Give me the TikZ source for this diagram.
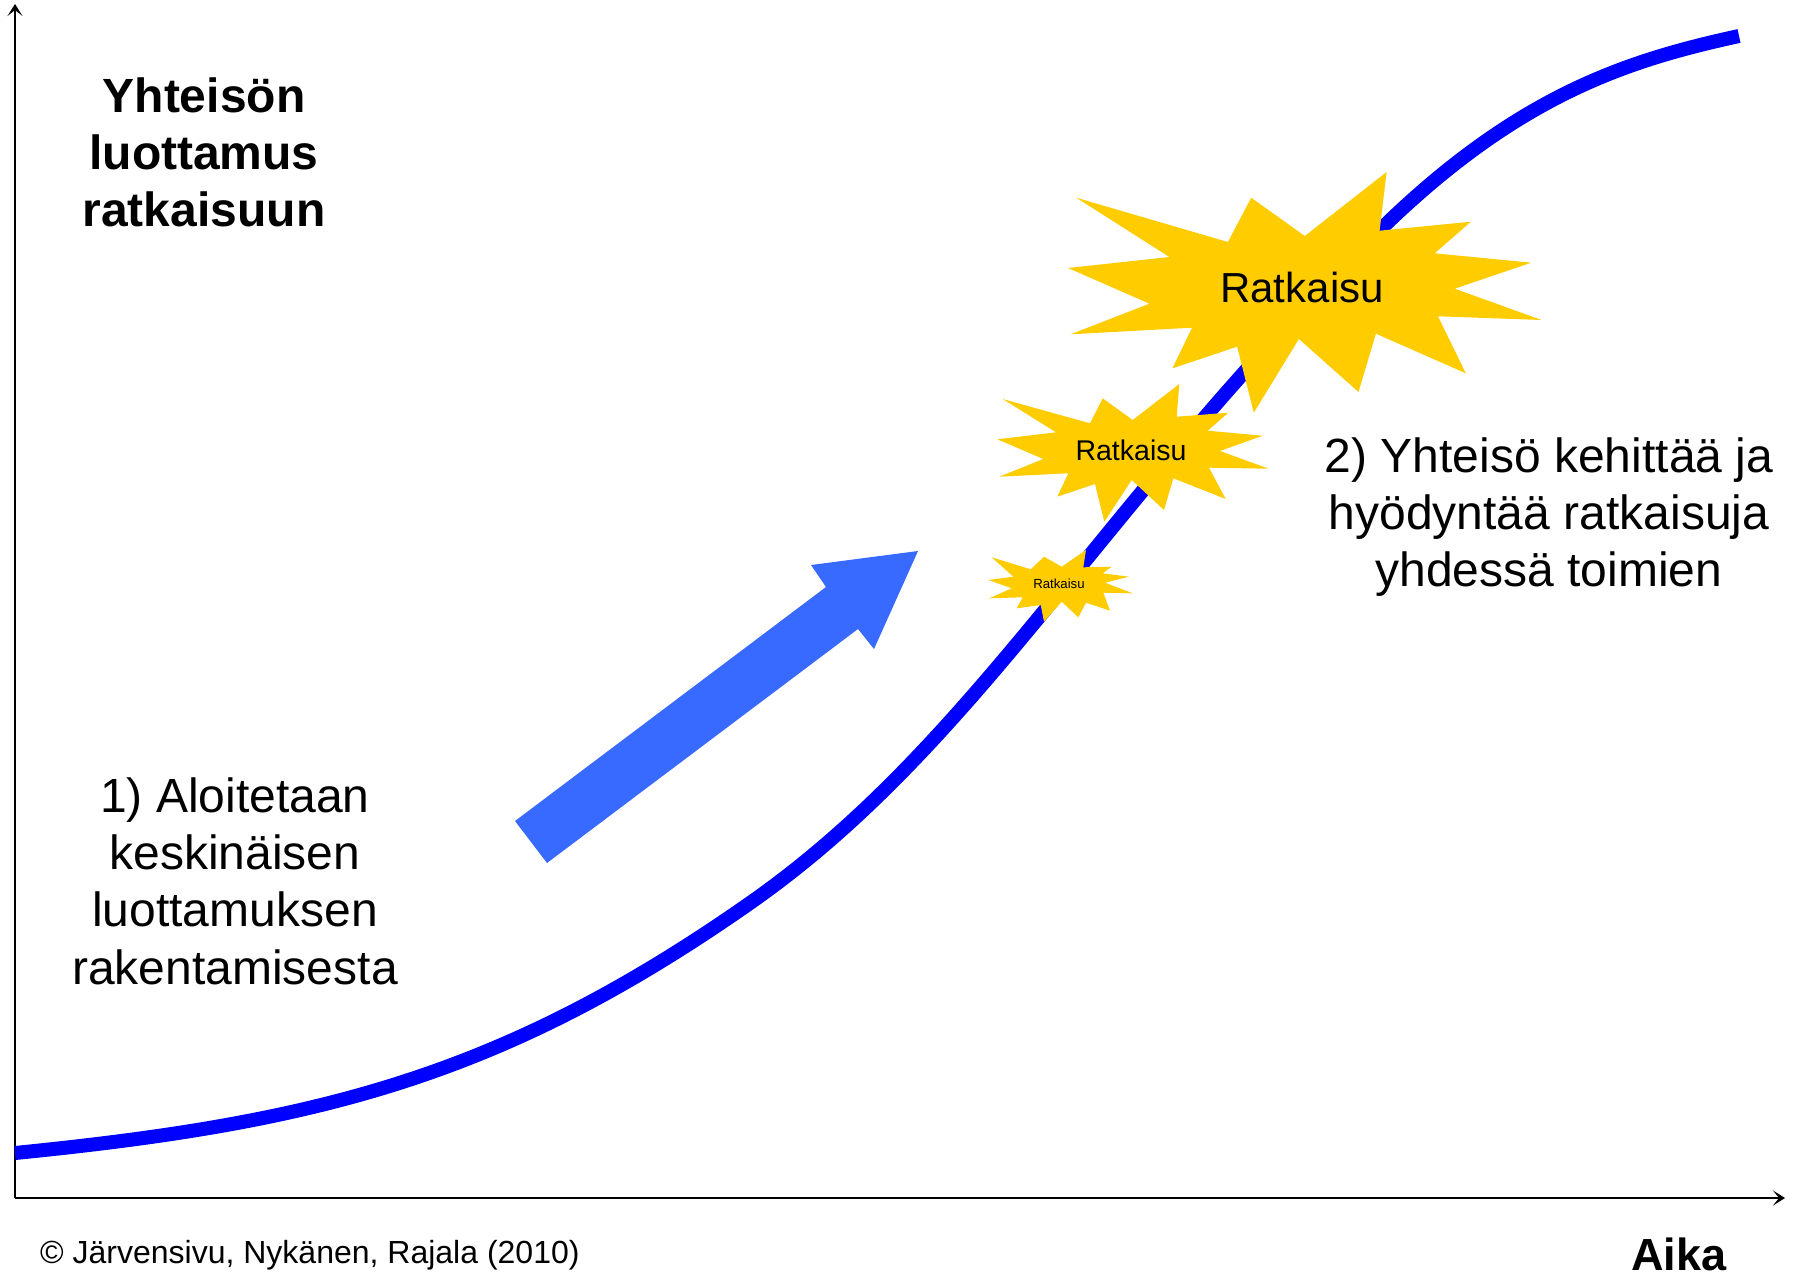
\documentclass[tikz,border=0pt]{standalone}
\usepackage{fontspec}
\setmainfont{Liberation Sans}
\usetikzlibrary{arrows.meta}
\definecolor{curveblue}{RGB}{0,0,255}
\definecolor{arrowblue}{RGB}{56,106,255}
\definecolor{burst}{RGB}{255,204,0}
\begin{document}
\begin{tikzpicture}[x=1pt,y=-1pt,
  axis/.style={line width=2.5pt,-{Stealth[length=12pt,width=15pt,inset=6pt]}},
  burstfill/.style={fill=burst},
  bigtext/.style={align=center,font=\fontsize{48}{57.3}\selectfont},
  bigbold/.style={align=center,font=\fontsize{48}{57}\selectfont\bfseries},
]
\useasboundingbox (0,0) rectangle (1795,1276);

% axes
\coordinate (origin) at (15,1198);
\coordinate (ytop) at (15,4);
\coordinate (xend) at (1785,1198);
\draw[axis] (origin) -- (ytop);
\draw[axis] (origin) -- (xend);

% growth curve (S-shape from three joined cubic pieces)
\coordinate (g0) at (15,1153);
\coordinate (g1) at (750,903);
\coordinate (g2) at (1383,227);
\coordinate (g3) at (1739,36);
\draw[curveblue,line width=14pt,line cap=butt]
  (g0) .. controls (315,1123) and (500,1078) .. (g1)
       .. controls (980,742) and (1103,499) .. (g2)
       .. controls (1520,94) and (1629,60) .. (g3);

% broad arrow
\coordinate (t1) at (515,821);
\coordinate (t2) at (547,863);
\coordinate (s2) at (858,629);
\coordinate (h2) at (874,649);
\coordinate (tip) at (918,551);
\coordinate (h1) at (811,565);
\coordinate (s1) at (826,587);
\fill[arrowblue] (t1) -- (t2) -- (s2) -- (h2) -- (tip) -- (h1) -- (s1) -- cycle;

% large burst
\fill[burstfill] (1076.2,197.7) -- (1227.9,242) -- (1251.2,197.7) -- (1304.8,236)
  -- (1386.6,172) -- (1379.6,230.7) -- (1470.9,221.7) -- (1434.7,253.3)
  -- (1531.2,262.7) -- (1454.7,288.7) -- (1541.6,320) -- (1438,316.3)
  -- (1465.8,373.3) -- (1375.9,333.7) -- (1358.5,392) -- (1298.9,339)
  -- (1253.8,412.7) -- (1237.1,346.7) -- (1172.4,368.3) -- (1192,327.7)
  -- (1070.6,334.3) -- (1149.4,303.7) -- (1068,268) -- (1169.4,257) -- cycle;
\node[font=\fontsize{42}{50}\selectfont] (r1) at (1302,287) {Ratkaisu};

% middle burst
\fill[burstfill] (1002.7,399) -- (1090,423.3) -- (1102.7,398.3) -- (1132.7,420)
  -- (1179.3,384) -- (1176.7,416.7) -- (1228.3,412.7) -- (1207.7,430.7)
  -- (1262.7,435.7) -- (1220,451) -- (1268.7,468.7) -- (1209,467.7)
  -- (1225.7,499) -- (1173.3,478.3) -- (1164,510) -- (1131.7,480)
  -- (1104.3,521.7) -- (1095,484) -- (1057.3,496.7) -- (1068.3,473.3)
  -- (999.3,476.7) -- (1043.3,459) -- (997.3,439.3) -- (1056,432.3) -- cycle;
\node[font=\fontsize{28.5}{34}\selectfont] (r2) at (1131,450) {Ratkaisu};

% small burst
\fill[burstfill] (991.7,557.3) -- (1030.7,569.3) -- (1044,556.7) -- (1061.7,566.7)
  -- (1086,550) -- (1083.3,567.3) -- (1111.7,566.7) -- (1102.7,573.3)
  -- (1129,576.7) -- (1105,582.7) -- (1132.7,593.3) -- (1103.3,592.7)
  -- (1110,610.7) -- (1086,602.7) -- (1078.3,617.3) -- (1061.7,601.7)
  -- (1044,621.7) -- (1040.7,605) -- (1016.7,608.3) -- (1022.7,597.3)
  -- (989.3,598.3) -- (1011.7,588.3) -- (988.3,580) -- (1013.3,576.7) -- cycle;
\node[font=\fontsize{13.2}{16}\selectfont] (r3) at (1059,584) {Ratkaisu};

% labels
\node[bigbold] (ylabel) at (204,152) {Yhteisön\\luottamus\\ratkaisuun};
\node[bigtext] (phase1) at (235,881) {1) Aloitetaan\\keskinäisen\\luottamuksen\\rakentamisesta};
\node[bigtext] (phase2) at (1549,517) {2) Yhteisö kehittää ja\\hyödyntää ratkaisuja\\yhdessä toimien};
\node[font=\fontsize{32}{38}\selectfont,anchor=west,inner sep=0pt] (credit) at (40,1255) {© Järvensivu, Nykänen, Rajala (2010)};
\node[font=\fontsize{45}{54}\selectfont\bfseries,inner sep=0pt] (xlabel) at (1679,1254) {Aika};
\end{tikzpicture}
\end{document}
